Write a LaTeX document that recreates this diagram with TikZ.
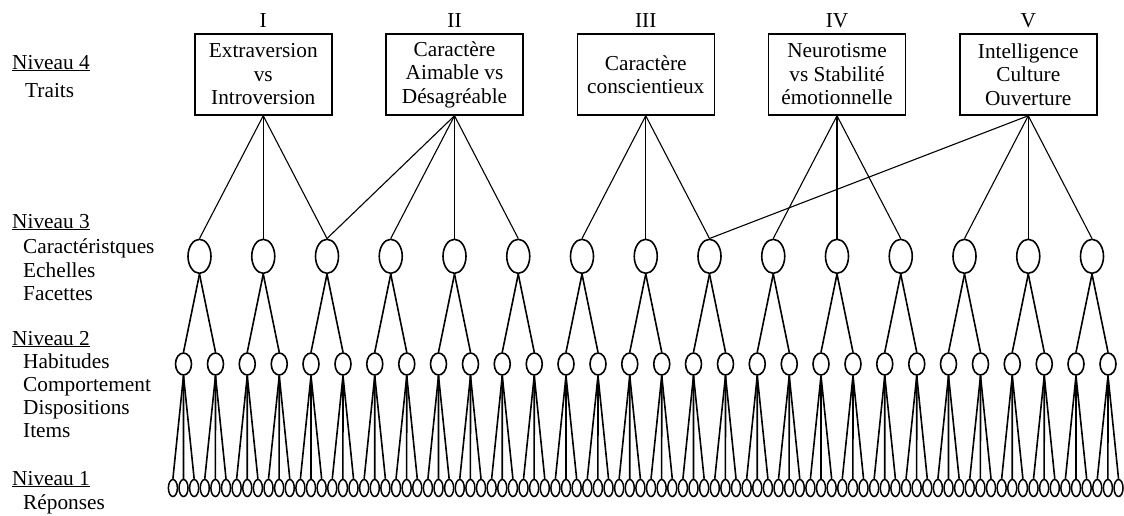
\documentclass[tikz,border=0pt]{standalone}
\usepackage{fontspec}
\setmainfont{Liberation Serif}
\usetikzlibrary{shapes.geometric}
\begin{document}
\begin{tikzpicture}[x=1pt,y=-1pt,
  every node/.style={font=\fontsize{21.3}{23.5}\selectfont, inner sep=0pt},
  trait/.style={draw, line width=1.5pt, minimum width=137pt, minimum height=81pt, align=center},
  roman/.style={anchor=base},
  lab/.style={anchor=base west},
  ethree/.style={draw, ellipse, line width=1.6pt, minimum width=23pt, minimum height=34pt},
  etwo/.style={draw, ellipse, line width=1.6pt, minimum width=16pt, minimum height=22pt},
  eone/.style={draw, ellipse, line width=1.5pt, minimum width=9pt, minimum height=17pt},
  upper/.style={line width=1.1pt},
  lower/.style={line width=1.6pt}]
\useasboundingbox (0,0) rectangle (1124,515);

% level labels
\node[lab] (n4) at (12,69) {\underline{Niveau 4}};
\node[lab] (n4a) at (25,97) {Traits};
\node[lab] (n3) at (12,228) {\underline{Niveau 3}};
\node[lab] (n3a) at (23,253) {Caractéristques};
\node[lab] (n3b) at (23,277) {Echelles};
\node[lab] (n3c) at (23,300.5) {Facettes};
\node[lab] (n2) at (12,345) {\underline{Niveau 2}};
\node[lab] (n2a) at (23,368) {Habitudes};
\node[lab] (n2b) at (23,391) {Comportement};
\node[lab] (n2c) at (23,414) {Dispositions};
\node[lab] (n2d) at (23,437) {Items};
\node[lab] (n1) at (12,485) {\underline{Niveau 1}};
\node[lab] (n1a) at (23,509) {Réponses};

% level 4 boxes
\node[trait] (b1) at (263.25,74.5) {Extraversion\\vs\\Introversion};
\node[trait] (b2) at (454.5,74.5) {Caractère\\Aimable vs\\Désagréable};
\node[trait] (b3) at (645.75,74.5) {Caractère\\conscientieux};
\node[trait] (b4) at (837,74.5) {Neurotisme\\vs Stabilité\\émotionnelle};
\node[trait] (b5) at (1028.25,74.5) {Intelligence\\Culture\\Ouverture};
\node[roman] (r1) at (263.25,27) {I};
\node[roman] (r2) at (454.5,27) {II};
\node[roman] (r3) at (645.75,27) {III};
\node[roman] (r4) at (837,27) {IV};
\node[roman] (r5) at (1028.25,27) {V};

% level 3
\foreach \k in {1,...,15} {
  \pgfmathsetmacro\xx{199.5+63.75*(\k-1)}
  \node[ethree] (c\k) at (\xx,256.3) {};
}
% level 2
\foreach \m in {1,...,30} {
  \pgfmathsetmacro\xx{199.5+63.75*floor((\m-1)/2)+(mod(\m-1,2)==0 ? -16 : 16)}
  \pgfmathtruncatemacro\pp{floor((\m-1)/2)+1}
  \node[etwo] (h\m) at (\xx,364) {};
  \draw[lower] (c\pp.south) -- (h\m.north);
}
% level 1
\foreach \n in {1,...,90} {
  \pgfmathsetmacro\xx{172.9+10.625*(\n-1)}
  \pgfmathtruncatemacro\pp{floor((\n-1)/3)+1}
  \node[eone] (l\n) at (\xx,488) {};
  \draw[lower] (h\pp.south) -- (l\n.north);
}

% trait connectors
\foreach \b/\lst in {1/{1,2,3}, 2/{3,4,5,6}, 3/{7,8,9}, 4/{10,11,12}, 5/{9,13,14,15}} {
  \foreach \c in \lst {
    \draw[upper] (b\b.south) -- (c\c.north);
  }
}
\end{tikzpicture}
\end{document}
